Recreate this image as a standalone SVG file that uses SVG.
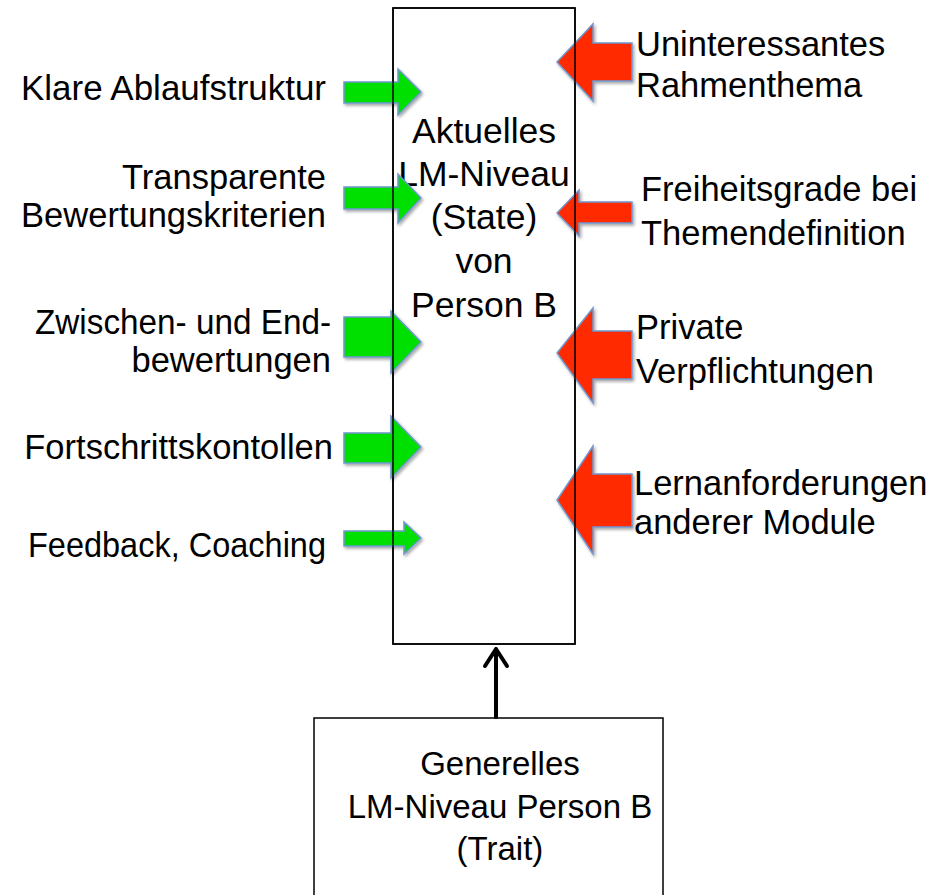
<svg xmlns="http://www.w3.org/2000/svg" width="927" height="895" viewBox="0 0 927 895">
<style>
text{font-family:"Liberation Sans",Arial,sans-serif;font-size:34.5px;fill:#000}
.l{text-anchor:end}
.c{text-anchor:middle;font-size:35.5px}
.b{text-anchor:middle;font-size:33px}
.box{fill:#fff;stroke:#000;stroke-width:1.5}
.frame{fill:none;stroke:#000;stroke-width:1.5}
.g{fill:#00E000;stroke:#6F97CF;stroke-width:1.5;filter:url(#sh)}
.r{fill:#FF2A00;stroke:#6F97CF;stroke-width:1.5;filter:url(#sh)}
.conn{fill:none;stroke:#000;stroke-width:4;stroke-linecap:round;stroke-linejoin:round}
</style>
<defs>
<filter id="sh" x="-20%" y="-20%" width="150%" height="150%">
<feDropShadow dx="1.5" dy="2" stdDeviation="1.5" flood-color="#000" flood-opacity="0.35"/>
</filter>
</defs>
<rect width="927" height="895" fill="#fff"/>
<g id="state">
<rect class="box" x="393" y="8" width="182" height="636"/>
<text class="c" x="484" y="143">Aktuelles</text>
<text class="c" x="484" y="186">LM-Niveau</text>
<text class="c" x="484" y="229">(State)</text>
<text class="c" x="484" y="273">von</text>
<text class="c" x="484" y="317">Person B</text>
</g>
<g id="trait">
<rect class="box" x="314" y="718" width="349" height="200"/>
<text class="b" x="500" y="775">Generelles</text>
<text class="b" x="500" y="818">LM-Niveau Person B</text>
<text class="b" x="500" y="860">(Trait)</text>
</g>
<g id="connectors">
<polygon id="g1" class="g" points="344,82 398,82 398,69 421,92 398,115 398,103 344,103"/>
<polygon id="g2" class="g" points="344,187 398,187 398,174 421,198 398,223 398,209 344,209"/>
<polygon id="g3" class="g" points="344,317 391,317 391,311 421,342 391,373 391,357 344,357"/>
<polygon id="g4" class="g" points="344,433 391,433 391,416 421,447 391,478 391,463 344,463"/>
<polygon id="g5" class="g" points="344,531 404,531 404,522 421,538 404,554 404,546 344,546"/>
<polygon id="r1" class="r" points="632,43 593,43 593,24 557,62 593,101 593,81 632,81"/>
<polygon id="r2" class="r" points="632,202 579,202 579,190 557,213 579,236 579,223 632,223"/>
<polygon id="r3" class="r" points="632,331 593,331 593,308 557,353 593,403 593,379 632,379"/>
<polygon id="r4" class="r" points="632,474 593,474 593,446 557,500 593,554 593,527 632,527"/>
<path class="conn" d="M496,717 L496,649 M485,666 L496,649 L507,666"/>
</g>
<rect class="frame" x="393" y="8" width="182" height="636"/>
<g id="labels-left">
<text class="l" x="326" y="100" textLength="305" lengthAdjust="spacingAndGlyphs">Klare Ablaufstruktur</text>
<text class="l" x="326" y="189">Transparente</text>
<text class="l" x="326" y="227">Bewertungskriterien</text>
<text class="l" x="331" y="334" textLength="296" lengthAdjust="spacingAndGlyphs">Zwischen- und End-</text>
<text class="l" x="331" y="372">bewertungen</text>
<text class="l" x="333" y="459">Fortschrittskontollen</text>
<text class="l" x="326" y="557" textLength="298" lengthAdjust="spacingAndGlyphs">Feedback, Coaching</text>
</g>
<g id="labels-right">
<text x="636" y="56">Uninteressantes</text>
<text x="636" y="97">Rahmenthema</text>
<text x="641" y="201">Freiheitsgrade bei</text>
<text x="641" y="245">Themendefinition</text>
<text x="636" y="339">Private</text>
<text x="636" y="383">Verpflichtungen</text>
<text x="634" y="495">Lernanforderungen</text>
<text x="634" y="534">anderer Module</text>
</g>
</svg>
